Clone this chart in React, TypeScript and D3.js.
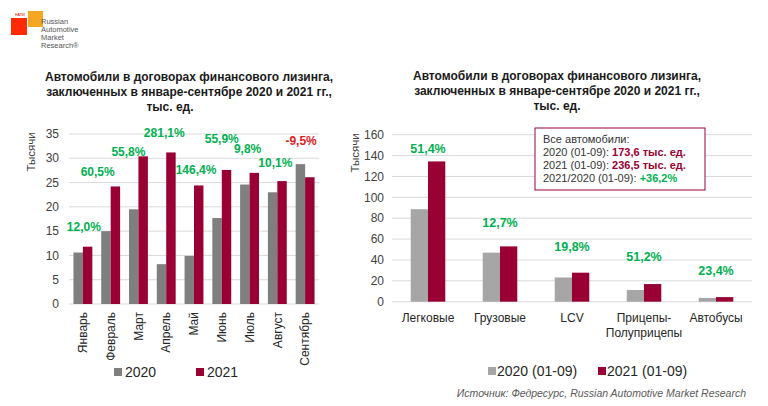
import React from "react";
import * as d3 from "d3";

const months = ["Январь", "Февраль", "Март", "Апрель", "Май", "Июнь", "Июль", "Август", "Сентябрь"];
const monthly2020 = [10.6, 15.0, 19.5, 8.2, 9.9, 17.7, 24.6, 23.0, 28.8];
const monthly2021 = [11.8, 24.2, 30.4, 31.2, 24.4, 27.6, 27.0, 25.3, 26.1];
const monthlyGrowth = ["12,0%", "60,5%", "55,8%", "281,1%", "146,4%", "55,9%", "9,8%", "10,1%", "-9,5%"];
const monthlyTicks = [0, 5, 10, 15, 20, 25, 30, 35];

const segments = ["Легковые", "Грузовые", "LCV", "Прицепы-\nПолуприцепы", "Автобусы"];
const segment2020 = [88.6, 47.0, 23.2, 11.2, 3.6];
const segment2021 = [134.4, 53.0, 27.8, 16.9, 4.4];
const segmentGrowth = ["51,4%", "12,7%", "19,8%", "51,2%", "23,4%"];
const segmentTicks = [0, 20, 40, 60, 80, 100, 120, 140, 160];

// where Excel left the data labels (level in thousands, shift in px)
const monthlyLabelAt = [15.9, 27.2, 31.3, 35.2, 27.6, 34, 31.9, 29, 33.6];
const monthlyLabelShift = [1, -13, -10, -2, 2, 0, -2, -2, -4];
const segmentLabelAt = [147, 76, 53, 43, 30];

const titleLines = [
  "Автомобили в договорах финансового лизинга,",
  "заключенных в январе-сентябре 2020 и 2021 гг.,",
  "тыс. ед.",
];

const FONT = "'Liberation Sans', Arial, sans-serif";
const CRIMSON = "#990033";
const GREEN = "#00b050";
const GRID = "#d9d9d9";

const Title = ({ cx, y0, lastCx }: { cx: number; y0: number; lastCx?: number }) => (
  <g fontFamily={FONT} fontWeight="bold" fontSize={12} fill="#1a1a1a" textAnchor="middle">
    {titleLines.map((t, i) => (
      <text key={i} x={i === titleLines.length - 1 && lastCx ? lastCx : cx} y={y0 + i * 15} dy="0.35em">
        {t}
      </text>
    ))}
  </g>
);

const LeftChart = () => {
  const x = d3.scaleBand<string>().domain(months).range([69, 319]);
  const y = d3.scaleLinear().domain([0, 35]).range([304, 134]);
  const bw = x.bandwidth();
  const barW = bw * 0.34;
  const sub = (i: number) => (bw - 2 * barW) / 2 + i * barW;

  return (
    <g>
      <Title cx={189} y0={77} lastCx={170} />
      {monthlyTicks.map((t) => (
        <g key={t}>
          <line x1={69} x2={319} y1={y(t)} y2={y(t)} stroke={GRID} strokeWidth={1} />
          <text x={59} y={y(t)} dy="0.35em" textAnchor="end" fontFamily={FONT} fontSize={12} fill="#404040">
            {t}
          </text>
        </g>
      ))}
      <text
        transform={`translate(31,152) rotate(-90)`}
        textAnchor="middle"
        dy="0.35em"
        fontFamily={FONT}
        fontSize={11.5}
        fill="#404040"
      >
        Тысячи
      </text>
      {months.map((m, i) => {
        const x0 = x(m) as number;
        const cx = x0 + bw / 2;
        return (
          <g key={m}>
            <rect x={x0 + sub(0)} width={barW} y={y(monthly2020[i])} height={y(0) - y(monthly2020[i])} fill="#7f7f7f" />
            <rect x={x0 + sub(1)} width={barW} y={y(monthly2021[i])} height={y(0) - y(monthly2021[i])} fill={CRIMSON} />
            <text
              x={cx + monthlyLabelShift[i]}
              y={y(monthlyLabelAt[i])}
              dy="0.35em"
              textAnchor="middle"
              fontFamily={FONT}
              fontWeight="bold"
              fontSize={12}
              fill={monthlyGrowth[i].startsWith("-") ? "#e0201b" : GREEN}
            >
              {monthlyGrowth[i]}
            </text>
            <text
              transform={`translate(${cx},312) rotate(-90)`}
              textAnchor="end"
              dy="0.35em"
              fontFamily={FONT}
              fontSize={12}
              fill="#262626"
            >
              {m}
            </text>
          </g>
        );
      })}
      <g fontFamily={FONT} fontSize={14} fill="#262626">
        <rect x={114} y={368} width={8} height={8} fill="#7f7f7f" />
        <text x={125} y={372} dy="0.35em">2020</text>
        <rect x={196} y={368} width={8} height={8} fill={CRIMSON} />
        <text x={207} y={372} dy="0.35em">2021</text>
      </g>
    </g>
  );
};

const RightChart = () => {
  const x = d3.scaleBand<string>().domain(segments).range([392, 752]);
  const y = d3.scaleLinear().domain([0, 160]).range([301.7, 134.7]);
  const bw = x.bandwidth();
  const barW = bw * 0.24;
  const sub = (i: number) => (bw - 2 * barW) / 2 + i * barW;

  return (
    <g>
      <Title cx={557} y0={76} />
      {segmentTicks.map((t) => (
        <g key={t}>
          <line x1={392} x2={752} y1={y(t)} y2={y(t)} stroke={GRID} strokeWidth={1} />
          <text x={384} y={y(t)} dy="0.35em" textAnchor="end" fontFamily={FONT} fontSize={12} fill="#404040">
            {t}
          </text>
        </g>
      ))}
      <text
        transform={`translate(355,153) rotate(-90)`}
        textAnchor="middle"
        dy="0.35em"
        fontFamily={FONT}
        fontSize={11.5}
        fill="#404040"
      >
        Тысячи
      </text>
      {segments.map((s, i) => {
        const x0 = x(s) as number;
        const cx = x0 + bw / 2;
        return (
          <g key={s}>
            <rect x={x0 + sub(0)} width={barW} y={y(segment2020[i])} height={y(0) - y(segment2020[i])} fill="#a6a6a6" />
            <rect x={x0 + sub(1)} width={barW} y={y(segment2021[i])} height={y(0) - y(segment2021[i])} fill={CRIMSON} />
            <text
              x={cx}
              y={y(segmentLabelAt[i])}
              dy="0.35em"
              textAnchor="middle"
              fontFamily={FONT}
              fontWeight="bold"
              fontSize={12.5}
              fill={GREEN}
            >
              {segmentGrowth[i]}
            </text>
            {s.split("\n").map((line, j) => (
              <text
                key={j}
                x={cx}
                y={318 + j * 15}
                dy="0.35em"
                textAnchor="middle"
                fontFamily={FONT}
                fontSize={12}
                fill="#262626"
              >
                {line}
              </text>
            ))}
          </g>
        );
      })}
      <rect x={535} y={128} width={170} height={62} fill="#fff" stroke={CRIMSON} strokeWidth={1} />
      <g fontFamily={FONT} fontSize={11} fill="#333">
        <text x={543} y={139} dy="0.35em">Все автомобили:</text>
        <text x={543} y={152} dy="0.35em">
          2020 (01-09): <tspan fill={CRIMSON} fontWeight="bold">173,6 тыс. ед.</tspan>
        </text>
        <text x={543} y={165} dy="0.35em">
          2021 (01-09): <tspan fill={CRIMSON} fontWeight="bold">236,5 тыс. ед.</tspan>
        </text>
        <text x={543} y={178} dy="0.35em">
          2021/2020 (01-09): <tspan fill={GREEN} fontWeight="bold">+36,2%</tspan>
        </text>
      </g>
      <g fontFamily={FONT} fontSize={14} fill="#262626">
        <rect x={488} y={367} width={8} height={8} fill="#a6a6a6" />
        <text x={497} y={371} dy="0.35em">2020 (01-09)</text>
        <rect x={598} y={367} width={8} height={8} fill={CRIMSON} />
        <text x={607} y={371} dy="0.35em">2021 (01-09)</text>
      </g>
    </g>
  );
};

const Logo = () => (
  <g>
    <rect x={28} y={11} width={15} height={16} fill="#f5a623" />
    <rect x={11} y={18} width={16} height={17} fill="#ff2a00" />
    <text x={15} y={16} fontFamily={FONT} fontSize={3.5} fill="#c00">НАПИ</text>
    <g fontFamily={FONT} fontSize={7.5} fill="#555">
      <text x={41} y={24}>Russian</text>
      <text x={41} y={32}>Automotive</text>
      <text x={41} y={40}>Market</text>
      <text x={41} y={48}>Research®</text>
    </g>
  </g>
);

export default function App() {
  return (
    <svg width={768} height={406} style={{ position: "absolute", left: 0, top: 0, background: "#fff" }}>
      <rect width={768} height={406} fill="#fff" />
      <Logo />
      <LeftChart />
      <RightChart />
      <text
        x={746}
        y={397}
        textAnchor="end"
        fontFamily={FONT}
        fontStyle="italic"
        fontSize={10.5}
        fill="#595959"
      >
        Источник: Федресурс, Russian Automotive Market Research
      </text>
    </svg>
  );
}
